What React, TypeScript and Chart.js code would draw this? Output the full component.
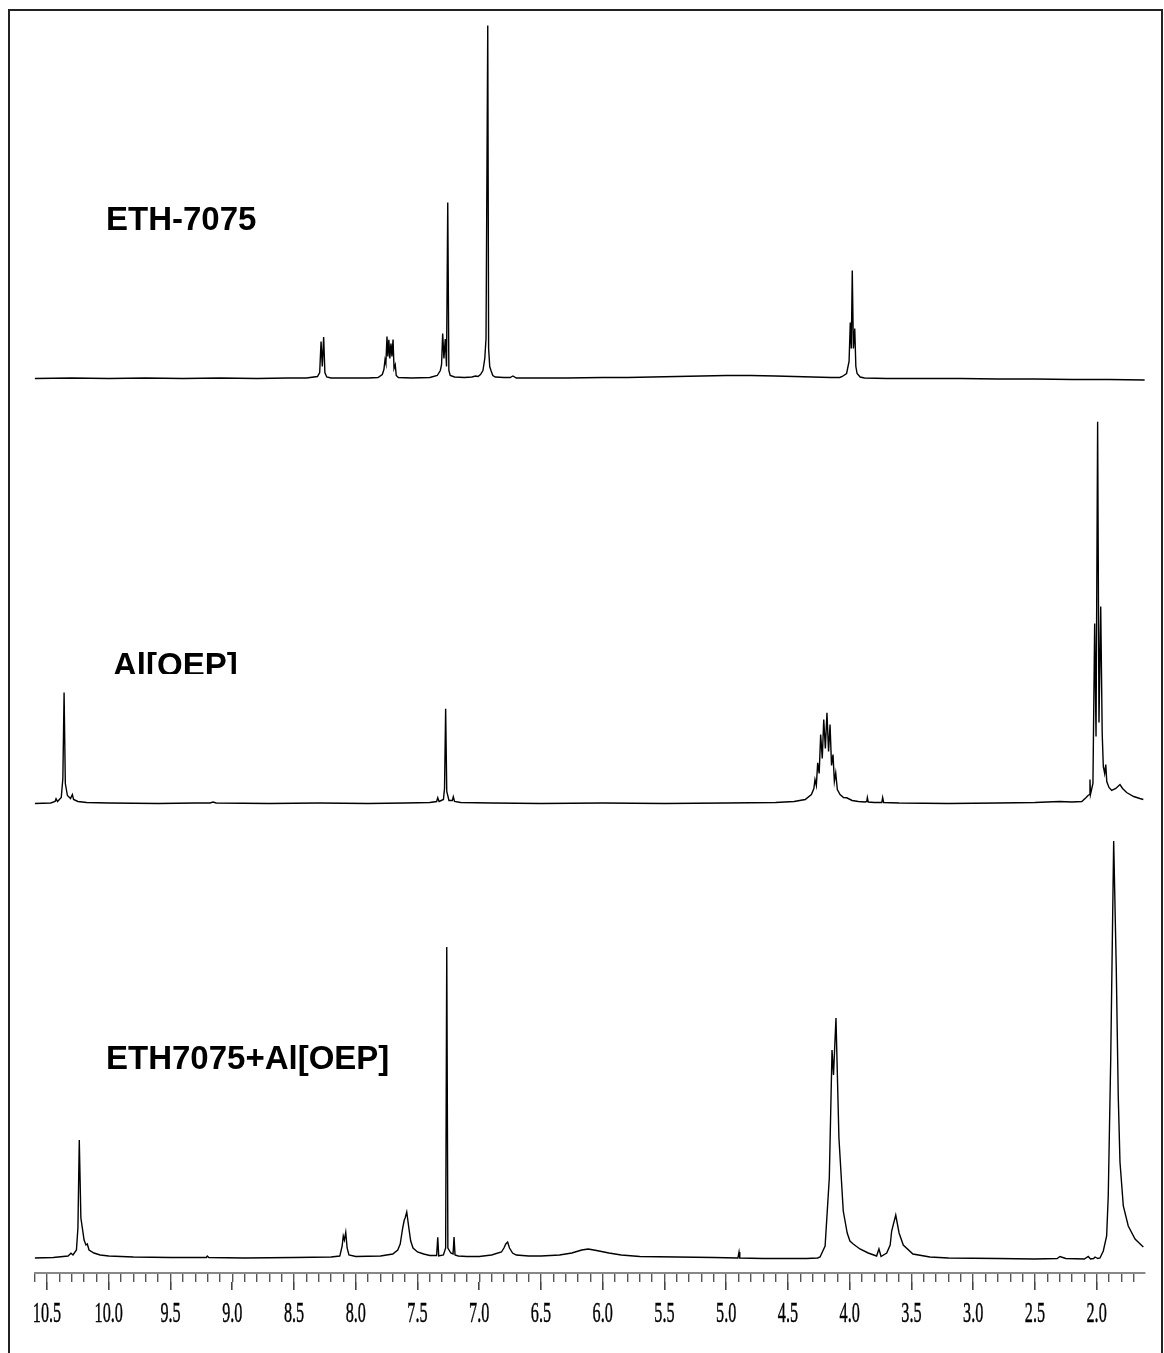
import React, { useEffect, useRef } from 'react';
import { Chart, registerables } from 'chart.js';

Chart.register(...registerables);

// ---- axis range (ppm, reversed) ----
const PPM_MIN = 1.61;
const PPM_MAX = 10.6;
const MAJOR_STEP = 0.5;
const MINOR_STEP = 0.1;

// ---- spectrum names ----
const SPECTRUM_LABELS = ['ETH-7075', 'Al[OEP]', 'ETH7075+Al[OEP]'];

// ---- spectra: [ppm, intensity (a.u.)] ----
const ETH7075: [number, number][] = [
  [10.6, 0], [10.3, 0.5], [10.0, 0], [9.7, 0.5], [9.4, 0], [9.1, 0.5], [8.8, 0], [8.55, 0.5], [8.4, 0.5],
  [8.31, 2], [8.292, 6], [8.281, 37], [8.271, 12], [8.26, 41.5], [8.25, 6], [8.235, 1.5], [8.2, 0.5],
  [8.0, 0.5], [7.9, 0.5], [7.82, 1], [7.785, 4], [7.772, 9], [7.763, 18.7], [7.756, 15], [7.747, 42],
  [7.74, 22], [7.732, 38.7], [7.724, 20], [7.715, 35], [7.707, 22], [7.698, 39], [7.69, 10], [7.68, 13.7],
  [7.672, 3], [7.655, 1], [7.55, 0.5], [7.4, 1], [7.34, 3], [7.315, 8], [7.305, 14], [7.296, 45],
  [7.286, 20], [7.275, 39.5], [7.265, 12], [7.255, 176], [7.246, 8], [7.235, 3], [7.2, 1.5], [7.12, 1],
  [7.06, 1.5], [7.03, 2.5], [7.01, 2], [6.99, 4], [6.97, 8], [6.955, 20], [6.945, 40], [6.931, 353],
  [6.924, 30], [6.915, 12], [6.905, 8], [6.89, 3], [6.87, 1.5], [6.8, 1], [6.75, 1], [6.727, 2.5],
  [6.7, 0.5], [6.5, 0.5], [6.3, 0.5], [6.0, 1], [5.8, 1], [5.6, 1.5], [5.4, 2], [5.2, 2.5], [5.0, 3],
  [4.8, 3], [4.6, 2.5], [4.45, 2], [4.3, 1.5], [4.15, 1], [4.08, 1], [4.06, 2], [4.025, 5], [4.005, 17],
  [3.995, 56], [3.987, 30], [3.979, 108], [3.97, 30], [3.959, 50], [3.95, 12], [3.94, 5], [3.915, 1.5],
  [3.88, 0.5], [3.7, 0], [3.4, 0], [3.1, 0], [2.8, -0.5], [2.5, -0.5], [2.2, -1], [1.9, -1], [1.61, -1.5],
];

const AL_OEP: [number, number][] = [
  [10.6, 0], [10.47, 0.5], [10.435, 2], [10.427, 4.7], [10.415, 2], [10.385, 6], [10.372, 25], [10.362, 111],
  [10.352, 20], [10.335, 8], [10.31, 5], [10.295, 9], [10.285, 4], [10.25, 2], [10.18, 1], [10.0, 0.5],
  [9.6, 0], [9.3, 0.5], [9.18, 0.5], [9.156, 1.5], [9.13, 0.5], [8.7, 0], [8.3, 0.5], [7.9, 0], [7.6, 0.5],
  [7.4, 1], [7.345, 2], [7.336, 5.7], [7.325, 2], [7.29, 4], [7.281, 15], [7.272, 94.7], [7.263, 12],
  [7.245, 3], [7.218, 3], [7.21, 6.7], [7.2, 2], [7.15, 1], [6.9, 0.5], [6.5, 0], [6.0, 0.5], [5.5, 0],
  [5.0, 0.5], [4.6, 1], [4.45, 2], [4.36, 4], [4.31, 9], [4.29, 15], [4.281, 24], [4.27, 18], [4.259, 40.7],
  [4.247, 30], [4.235, 69], [4.222, 45], [4.21, 84], [4.197, 55], [4.184, 90.7], [4.171, 52], [4.159, 79],
  [4.147, 38], [4.135, 49], [4.124, 22], [4.113, 30.7], [4.1, 14], [4.078, 9], [4.05, 6], [4.024, 5.7],
  [3.98, 3], [3.93, 2], [3.875, 1.5], [3.862, 2], [3.857, 6], [3.85, 1.5], [3.8, 1], [3.74, 1], [3.733, 6],
  [3.725, 1], [3.6, 0.5], [3.2, 0], [2.8, 0.5], [2.5, 1], [2.3, 2], [2.2, 1.5], [2.12, 2], [2.085, 6],
  [2.07, 8], [2.056, 9], [2.054, 24], [2.05, 9], [2.03, 20], [2.016, 180], [2.005, 67], [1.992, 381.7],
  [1.981, 81], [1.967, 197], [1.955, 70], [1.946, 37], [1.935, 30], [1.926, 39], [1.918, 22], [1.9, 16],
  [1.878, 13], [1.845, 15], [1.811, 19], [1.79, 15], [1.757, 11], [1.7, 7], [1.65, 5], [1.622, 4],
];

const ETH7075_AL_OEP: [number, number][] = [
  [10.6, 0], [10.45, 0.5], [10.33, 2], [10.306, 4.7], [10.29, 3], [10.262, 8], [10.25, 30], [10.239, 118],
  [10.226, 40], [10.2, 18], [10.185, 13], [10.174, 14], [10.16, 8], [10.12, 5], [10.07, 3], [10.0, 2],
  [9.8, 1], [9.5, 0.5], [9.21, 0.5], [9.202, 2], [9.19, 0.5], [8.9, 0], [8.5, 0.5], [8.2, 1], [8.13, 2],
  [8.127, 3], [8.11, 12], [8.101, 22], [8.092, 18], [8.081, 25.6], [8.07, 10], [8.055, 3], [8.0, 1.5],
  [7.8, 2], [7.7, 4], [7.66, 8], [7.64, 14], [7.62, 30], [7.607, 38], [7.6, 40], [7.587, 46], [7.57, 30],
  [7.555, 17], [7.536, 10], [7.5, 6], [7.45, 4], [7.4, 2.5], [7.345, 2.5], [7.336, 20.7], [7.328, 2],
  [7.29, 3], [7.272, 10], [7.263, 311], [7.254, 10], [7.23, 5], [7.212, 4], [7.204, 21], [7.196, 3],
  [7.17, 2], [7.1, 1.5], [7.0, 1.5], [6.9, 3], [6.82, 6], [6.8, 10], [6.785, 14], [6.77, 16], [6.755, 10],
  [6.73, 5], [6.7, 3], [6.6, 2], [6.5, 2], [6.35, 3], [6.25, 5], [6.17, 8], [6.117, 9], [6.05, 7.5],
  [5.95, 5], [5.85, 3], [5.7, 1.5], [5.4, 1], [5.1, 0.5], [4.905, 0], [4.896, 6], [4.89, 0], [4.7, -0.5],
  [4.5, -0.5], [4.35, -0.5], [4.26, 0], [4.24, 1], [4.199, 12], [4.165, 80], [4.143, 208], [4.131, 183],
  [4.111, 240], [4.087, 120], [4.052, 47], [4.02, 25], [3.998, 17], [3.971, 14], [3.917, 9], [3.85, 5],
  [3.782, 2], [3.763, 9], [3.746, 1.5], [3.7, 5], [3.672, 13], [3.66, 27], [3.627, 43], [3.6, 25],
  [3.566, 13], [3.488, 4], [3.35, 1], [3.2, 0], [2.8, -0.5], [2.5, -1], [2.32, -0.5], [2.297, 1.5],
  [2.25, -0.5], [2.1, -1], [2.068, 1.5], [2.05, -1], [2.025, -0.5], [2.013, 1], [1.99, -0.5], [1.973, 0],
  [1.946, 7], [1.919, 22], [1.906, 62], [1.886, 199], [1.862, 417], [1.841, 289], [1.825, 162],
  [1.811, 96], [1.784, 52], [1.744, 32], [1.689, 19], [1.622, 11],
];

const SPECTRA = [ETH7075, AL_OEP, ETH7075_AL_OEP];

// ---- layout (pixels) ----
const W = 1164;
const H = 1353;
const AREA_TOP = 20;
const AREA_BOTTOM = 1273;
const BASELINES = [378.5, 803.5, 1258];
const MINOR_LEN = 9;
const MAJOR_LEN = 8;

function rangeFor(base: number) {
  return { min: -(AREA_BOTTOM - base), max: base - AREA_TOP };
}

const annotatePlugin = {
  id: 'annotate',
  afterDraw(chart: any) {
    const ctx: CanvasRenderingContext2D = chart.ctx;
    const xs = chart.scales.xMajor;
    ctx.save();
    // tick labels (condensed serif)
    ctx.fillStyle = '#000';
    ctx.strokeStyle = '#000';
    ctx.lineWidth = 0.45;
    ctx.font = '30px "Liberation Serif", "Times New Roman", serif';
    ctx.textAlign = 'center';
    ctx.textBaseline = 'alphabetic';
    for (const t of xs.ticks) {
      const px = xs.getPixelForValue(t.value);
      const txt = Number(t.value).toFixed(1);
      ctx.save();
      ctx.translate(px, 1322);
      ctx.scale(0.54, 1);
      ctx.fillText(txt, 0, 0);
      ctx.strokeText(txt, 0, 0);
      ctx.restore();
    }
    // spectrum names
    ctx.fillStyle = '#000';
    ctx.font = 'bold 33px "Liberation Sans", Arial, sans-serif';
    ctx.textAlign = 'left';
    ctx.fillText(SPECTRUM_LABELS[0], 106, 230);
    ctx.save();
    ctx.beginPath();
    ctx.rect(0, 0, W, 674);
    ctx.clip();
    ctx.fillText(SPECTRUM_LABELS[1], 113, 676);
    ctx.restore();
    ctx.fillText(SPECTRUM_LABELS[2], 106, 1069);
    ctx.restore();
  },
};

export default function App() {
  const ref = useRef<HTMLCanvasElement | null>(null);

  useEffect(() => {
    if (!ref.current) return;
    const datasets = SPECTRA.map((s, i) => ({
      label: SPECTRUM_LABELS[i],
      data: s.map(([x, y]) => ({ x, y })),
      yAxisID: 'y' + (i + 1),
      borderColor: '#000',
      borderWidth: 1.4,
      pointRadius: 0,
      tension: 0,
      fill: false,
    }));
    const chart = new Chart(ref.current, {
      type: 'line',
      data: { datasets },
      plugins: [annotatePlugin],
      options: {
        responsive: false,
        animation: false,
        events: [],
        layout: { padding: { left: 34.7, right: 19.2, top: AREA_TOP, bottom: H - AREA_BOTTOM - MINOR_LEN - MAJOR_LEN } },
        plugins: { legend: { display: false }, tooltip: { enabled: false }, title: { display: false } },
        scales: {
          x: {
            type: 'linear',
            position: 'bottom',
            weight: 0,
            reverse: true,
            min: PPM_MIN,
            max: PPM_MAX,
            ticks: { display: false, stepSize: MINOR_STEP, includeBounds: false },
            grid: { display: true, drawOnChartArea: false, drawTicks: true, tickLength: MINOR_LEN, color: '#555', lineWidth: 1.4 },
            border: { display: true, color: '#888', width: 2 },
          },
          xMajor: {
            type: 'linear',
            axis: 'x',
            position: 'bottom',
            weight: 1,
            reverse: true,
            min: PPM_MIN,
            max: PPM_MAX,
            ticks: { display: false, stepSize: MAJOR_STEP, includeBounds: false },
            grid: { display: true, drawOnChartArea: false, drawTicks: true, tickLength: MAJOR_LEN, color: '#444', lineWidth: 1.6 },
            border: { display: false },
          },
          y1: { type: 'linear', display: false, ...rangeFor(BASELINES[0]) },
          y2: { type: 'linear', display: false, ...rangeFor(BASELINES[1]) },
          y3: { type: 'linear', display: false, ...rangeFor(BASELINES[2]) },
        },
      } as any,
    });
    return () => chart.destroy();
  }, []);

  return (
    <div style={{ position: 'absolute', left: 0, top: 0, width: W, height: H, overflow: 'hidden', background: '#fff' }}>
      <div
        style={{
          position: 'absolute',
          left: 8,
          top: 9,
          width: 1155,
          height: 1400,
          boxSizing: 'border-box',
          border: '2px solid #222',
        }}
      />
      <canvas ref={ref} width={W} height={H} style={{ position: 'absolute', left: 0, top: 0, width: W, height: H }} />
    </div>
  );
}
